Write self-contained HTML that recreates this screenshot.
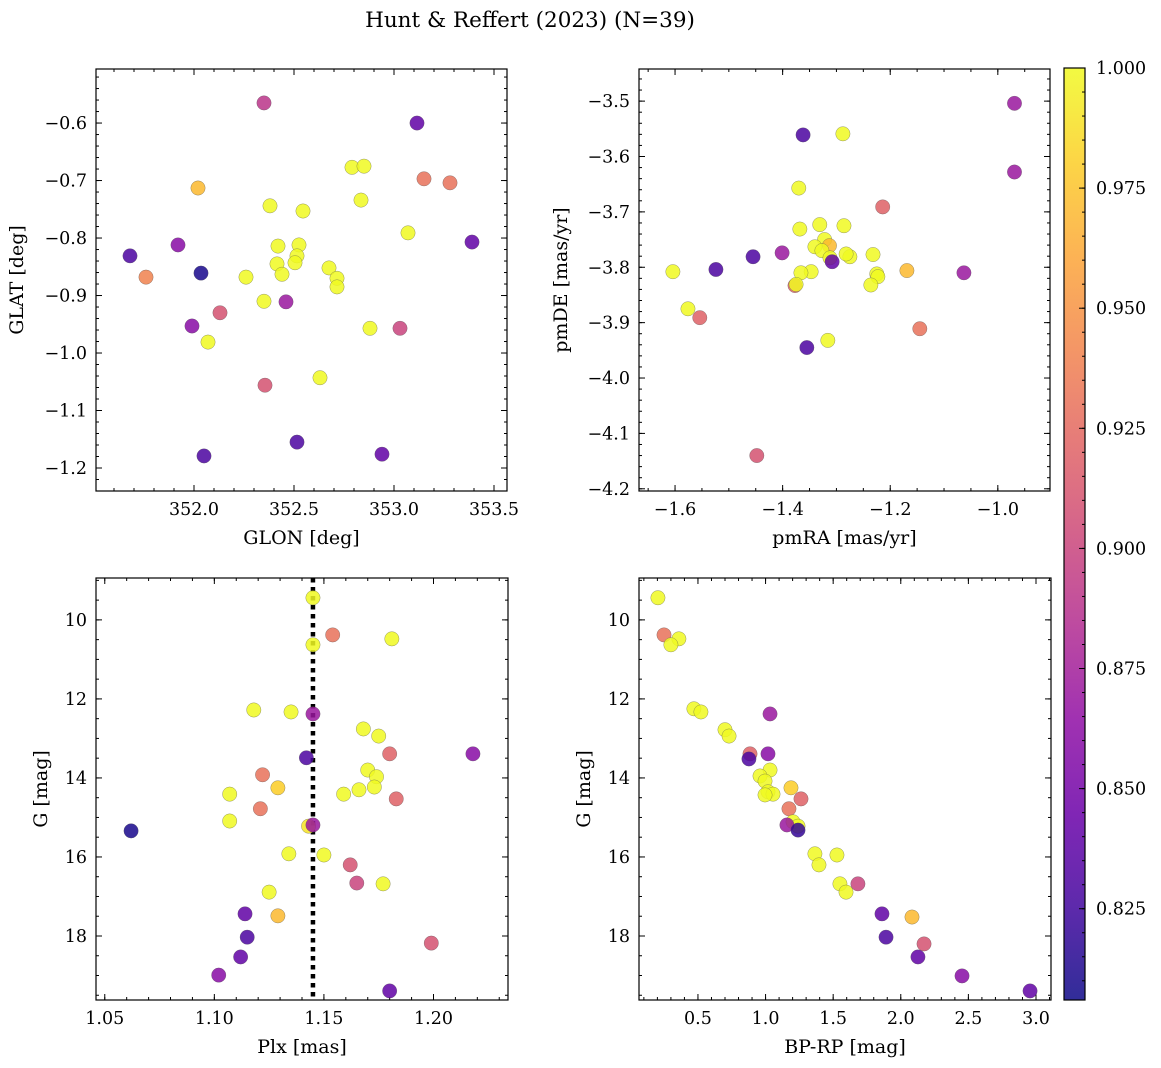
<!DOCTYPE html>
<html><head><meta charset="utf-8"><style>
body{margin:0;background:#fff}
svg{display:block;font-family:"DejaVu Serif","Liberation Serif",serif}
</style></head><body>
<svg id="fig" width="1161" height="1068" viewBox="0 0 1161 1068" xmlns="http://www.w3.org/2000/svg">
<text x="530" y="27" font-size="21.5" text-anchor="middle">Hunt &amp; Reffert (2023) (N=39)</text>
</svg>
<script>
// ---- data ----
const tlGlon=[352.35,353.115,352.79,352.85,353.15,353.28,352.02,352.835,352.38,352.545,353.07,351.68,351.92,353.39,352.42,352.525,352.515,352.035,351.76,352.415,352.44,352.26,352.505,352.675,352.715,352.715,352.35,352.46,352.13,351.99,352.88,353.03,352.07,352.355,352.63,352.515,352.05,352.94];
const tlGlat=[-0.565,-0.60,-0.677,-0.675,-0.697,-0.704,-0.713,-0.734,-0.744,-0.753,-0.791,-0.831,-0.812,-0.807,-0.814,-0.812,-0.831,-0.861,-0.868,-0.845,-0.863,-0.868,-0.843,-0.852,-0.87,-0.885,-0.91,-0.911,-0.93,-0.953,-0.957,-0.957,-0.981,-1.056,-1.043,-1.155,-1.179,-1.176];
const tlProb=[0.89,0.84,1,1,0.93,0.93,0.97,1,1,1,1,0.83,0.86,0.84,1,1,1,0.81,0.94,1,1,1,1,1,1,1,1,0.87,0.91,0.86,1,0.90,1,0.91,1,0.83,0.83,0.84];

const trPmra=[-0.969,-0.969,-1.362,-1.288,-1.370,-1.214,-1.368,-1.331,-1.286,-1.322,-1.313,-1.340,-1.327,-1.312,-1.275,-1.282,-1.232,-1.401,-1.455,-1.524,-1.604,-1.347,-1.366,-1.225,-1.223,-1.169,-1.063,-1.377,-1.375,-1.236,-1.576,-1.554,-1.145,-1.316,-1.355,-1.448,-1.308];
const trPmde=[-3.504,-3.628,-3.561,-3.559,-3.657,-3.691,-3.731,-3.723,-3.725,-3.750,-3.761,-3.763,-3.770,-3.783,-3.781,-3.776,-3.777,-3.774,-3.781,-3.804,-3.808,-3.808,-3.810,-3.812,-3.817,-3.806,-3.810,-3.833,-3.831,-3.832,-3.875,-3.891,-3.911,-3.932,-3.945,-4.140,-3.790];
const trProb=[0.87,0.87,0.83,1,1,0.92,1,1,1,1,0.97,1,1,1,1,1,1,0.87,0.83,0.83,1,1,1,1,1,0.97,0.87,0.92,1,1,1,0.92,0.93,1,0.83,0.91,0.84];

const blPlx=[1.145,1.154,1.181,1.145,1.118,1.135,1.145,1.168,1.175,1.180,1.218,1.142,1.122,1.170,1.174,1.173,1.129,1.166,1.107,1.159,1.183,1.121,1.107,1.143,1.145,1.062,1.134,1.150,1.162,1.165,1.177,1.125,1.114,1.129,1.115,1.199,1.112,1.102,1.180];
const blG=[9.44,10.38,10.48,10.63,12.28,12.33,12.38,12.76,12.94,13.39,13.39,13.49,13.92,13.80,13.97,14.23,14.25,14.30,14.41,14.41,14.53,14.78,15.09,15.22,15.19,15.34,15.92,15.95,16.20,16.66,16.68,16.89,17.44,17.49,18.03,18.18,18.53,18.99,19.39];
const blProb=[1,0.93,1,1,1,1,0.87,1,1,0.92,0.86,0.83,0.93,1,1,1,0.98,1,1,1,0.92,0.93,1,0.99,0.87,0.81,1,1,0.91,0.90,1,1,0.84,0.97,0.83,0.91,0.84,0.86,0.84];

const brBprp=[0.204,0.249,0.359,0.300,0.470,0.522,1.033,0.70,0.73,0.885,1.018,0.877,1.033,0.959,0.996,1.188,1.018,1.055,0.996,1.262,1.173,1.203,1.24,1.158,1.24,1.365,1.528,1.395,1.55,1.683,1.595,1.861,2.083,1.891,2.172,2.127,2.453,2.956];
const brG=[9.44,10.38,10.48,10.63,12.25,12.33,12.38,12.78,12.94,13.39,13.39,13.52,13.80,13.95,14.08,14.25,14.35,14.41,14.43,14.53,14.78,15.11,15.22,15.19,15.32,15.92,15.95,16.20,16.68,16.68,16.89,17.44,17.52,18.03,18.20,18.53,19.01,19.39];
const brProb=[1,0.93,1,1,1,1,0.87,1,1,0.92,0.86,0.83,1,1,1,0.98,1,1,1,0.92,0.93,1,1,0.87,0.82,1,1,1,1,0.90,1,0.84,0.97,0.83,0.91,0.84,0.86,0.84];

const plxMedian=[1.145];
const cbTicks=[0.825,0.85,0.875,0.9,0.925,0.95,0.975,1.0];

// ---- helpers ----
const NS="http://www.w3.org/2000/svg";
const fig=document.getElementById('fig');
function mk(tag,attrs,parent){const e=document.createElementNS(NS,tag);for(const k in attrs)e.setAttribute(k,attrs[k]);(parent||fig).appendChild(e);return e;}
const VMIN=0.806,VMAX=1.0;
const TF=17.5, LF=19;
const stops=[[13,8,135],[65,4,157],[106,0,168],[143,13,164],[177,42,144],[204,71,120],[225,100,98],[242,132,75],[252,166,54],[252,206,37],[240,249,33]];
function plasma(t){t=Math.max(0,Math.min(1,t));const f=t*10,i=Math.min(9,Math.floor(f)),r=f-i;const a=stops[i],b=stops[i+1];return `rgb(${a.map((v,k)=>Math.round(v+(b[k]-v)*r)).join(',')})`;}
function pcol(p){return plasma((p-VMIN)/(VMAX-VMIN));}
function fmt(v,d){let s=v.toFixed(d);return s.replace('-','\u2212');}

function panel(o){
  const g=mk('g',{});
  
  
  const sx=v=>o.x0+(v-o.xd[0])/(o.xd[1]-o.xd[0])*(o.x1-o.x0);
  const sy=v=>o.y0+(v-o.yd[0])/(o.yd[1]-o.yd[0])*(o.y1-o.y0);
  const xmin=Math.min(...o.xd),xmax=Math.max(...o.xd),ymin=Math.min(...o.yd),ymax=Math.max(...o.yd);
  const tg=mk('g',{stroke:'#000','stroke-width':1},g);
  function ticks(step,len,axis,labels,dec){
    const lo=axis==='x'?xmin:ymin,hi=axis==='x'?xmax:ymax;
    for(let k=Math.ceil(lo/step-1e-6);k*step<=hi+1e-9;k++){
      const v=k*step;
      if(axis==='x'){const X=sx(v);mk('line',{x1:X,x2:X,y1:o.y1,y2:o.y1-len},tg);mk('line',{x1:X,x2:X,y1:o.y0,y2:o.y0+len},tg);
        if(labels){const t=mk('text',{x:X,y:o.y1+24,'font-size':TF,'text-anchor':'middle',stroke:'none'},g);t.textContent=fmt(v,dec);}}
      else{const Y=sy(v);mk('line',{x1:o.x0,x2:o.x0+len,y1:Y,y2:Y},tg);mk('line',{x1:o.x1,x2:o.x1-len,y1:Y,y2:Y},tg);
        if(labels){const t=mk('text',{x:o.x0-9,y:Y+6,'font-size':TF,'text-anchor':'end',stroke:'none'},g);t.textContent=fmt(v,dec);}}
    }
  }
  ticks(o.xminor,3,'x',false);ticks(o.xmajor,6,'x',true,o.xdec);
  ticks(o.yminor,3,'y',false);ticks(o.ymajor,6,'y',true,o.ydec);
  if(o.vline){for(const v of o.vline){const l=mk('line',{x1:sx(v),x2:sx(v),y1:o.y0,y2:o.y1,stroke:'#000','stroke-width':4.5,'stroke-dasharray':'4.5 4.5'},g);}}
  const pg=mk('g',{},g);
  for(let i=0;i<o.xs.length;i++){
    const c=mk('circle',{cx:sx(o.xs[i]),cy:sy(o.ys[i]),r:7.2,fill:pcol(o.ps[i]),'fill-opacity':0.85,stroke:'#555','stroke-opacity':0.6,'stroke-width':0.5},pg);
    
    
  }
  const fr=mk('rect',{x:o.x0,y:o.y0,width:o.x1-o.x0,height:o.y1-o.y0,fill:'none',stroke:'#000','stroke-width':1.2},g);
  
  const xl=mk('text',{x:(o.x0+o.x1)/2,y:o.y1+53,'font-size':LF,'text-anchor':'middle'},g);xl.textContent=o.xlab;
  
  const yx=o.ylx,yy=(o.y0+o.y1)/2;
  const yl=mk('text',{x:yx,y:yy,'font-size':LF,'text-anchor':'middle',transform:`rotate(-90 ${yx} ${yy})`},g);yl.textContent=o.ylab;
  
}

panel({name:'glon-glat-panel',x0:96,x1:507,y0:69,y1:491,xd:[351.51,353.565],yd:[-0.506,-1.24],xmajor:0.5,xminor:0.1,ymajor:0.1,yminor:0.02,xdec:1,ydec:1,xs:tlGlon,ys:tlGlat,ps:tlProb,xlab:'GLON [deg]',ylab:'GLAT [deg]',ylx:23});
panel({name:'proper-motion-panel',x0:639,x1:1050,y0:69,y1:491,xd:[-1.667,-0.903],yd:[-3.442,-4.204],xmajor:0.2,xminor:0.05,ymajor:0.1,yminor:0.02,xdec:1,ydec:1,xs:trPmra,ys:trPmde,ps:trProb,xlab:'pmRA [mas/yr]',ylab:'pmDE [mas/yr]',ylx:567});
panel({name:'plx-g-panel',x0:96,x1:508,y0:578,y1:1000,xd:[1.046,1.234],yd:[8.94,19.62],xmajor:0.05,xminor:0.01,ymajor:2,yminor:0.5,xdec:2,ydec:0,xs:blPlx,ys:blG,ps:blProb,xlab:'Plx [mas]',ylab:'G [mag]',ylx:47,vline:plxMedian});
panel({name:'cmd-panel',x0:639,x1:1051,y0:578,y1:1000,xd:[0.064,3.111],yd:[8.94,19.62],xmajor:0.5,xminor:0.1,ymajor:2,yminor:0.5,xdec:1,ydec:0,xs:brBprp,ys:brG,ps:brProb,xlab:'BP-RP [mag]',ylab:'G [mag]',ylx:590});

// colorbar
(function(){
  const x0=1064,x1=1085,y0=68,y1=1000;
  const cb=mk('g',{});
  
  
  const defs=mk('defs',{},cb);
  const lg=mk('linearGradient',{id:'cbg',x1:0,y1:1,x2:0,y2:0},defs);
  for(let i=0;i<=20;i++)mk('stop',{offset:i/20,'stop-color':plasma(i/20),'stop-opacity':0.85},lg);
  mk('rect',{x:x0,y:y0,width:x1-x0,height:y1-y0,fill:'url(#cbg)',stroke:'#000','stroke-width':1.2},cb);
  const sy=v=>y1-(v-VMIN)/(VMAX-VMIN)*(y1-y0);
  for(let v=0.81;v<=1.0001;v+=0.005){mk('line',{x1:x1,x2:x1-3,y1:sy(v),y2:sy(v),stroke:'#000'},cb);}
  for(const v of cbTicks){const Y=sy(v);mk('line',{x1:x1,x2:x1-6,y1:Y,y2:Y,stroke:'#000'},cb);
    const t=mk('text',{x:x1+11,y:Y+6,'font-size':TF},cb);t.textContent=v.toFixed(3);
    }
})();
</script>
</body></html>
